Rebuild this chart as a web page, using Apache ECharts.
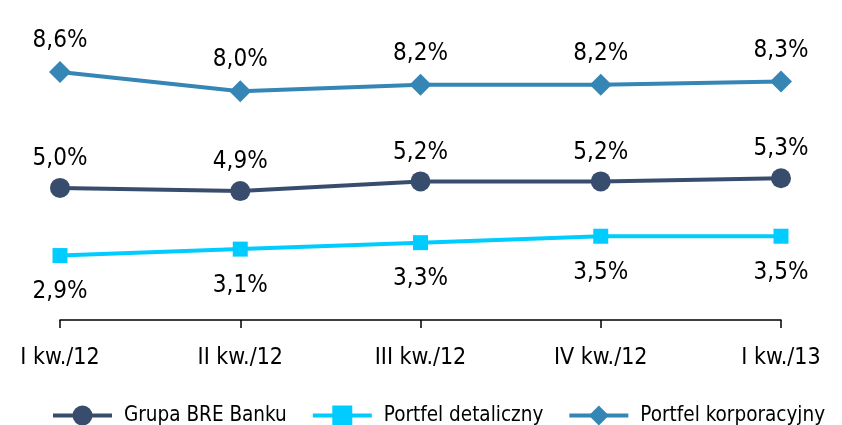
<!DOCTYPE html>
<html>
<head>
<meta charset="utf-8">
<script src="https://cdn.jsdelivr.net/npm/echarts@6/dist/echarts.min.js"></script>
<style>
  html, body { margin: 0; padding: 0; background: #fff; }
  #chart { width: 842px; height: 425px; }
</style>
</head>
<body>
<div id="chart"></div>
<script>
// kwartały
const quarters = ["I kw./12", "II kw./12", "III kw./12", "IV kw./12", "I kw./13"];
// wartości (%)
const grupaBRE = [5.0, 4.9, 5.2, 5.2, 5.3];
const portfelDetaliczny = [2.9, 3.1, 3.3, 3.5, 3.5];
const portfelKorporacyjny = [8.6, 8.0, 8.2, 8.2, 8.3];

const font = "'Liberation Sans Narrow', 'DejaVu Sans Condensed', sans-serif";

const fmt = (p) => p.value.toFixed(1).replace(".", ",") + "%";

const chart = echarts.init(document.getElementById("chart"));

const labelStyle = {
  show: true,
  formatter: fmt,
  fontFamily: font,
  fontSize: 24,
  color: "#000",
};

chart.setOption({
  animation: false,
  textStyle: { fontFamily: font },
  grid: { left: 60, right: 61, top: 30, bottom: 105 },
  legend: {
    left: 46,
    top: 400,
    itemWidth: 59,
    itemHeight: 25,
    itemGap: 24,
    lineStyle: { width: 4 },
    textStyle: { fontFamily: font, fontSize: 20.5, color: "#000", padding: [0, 0, 0, 7] },
    data: ["Grupa BRE Banku", "Portfel detaliczny", "Portfel korporacyjny"],
  },
  xAxis: {
    type: "category",
    data: quarters,
    boundaryGap: false,
    axisLine: { lineStyle: { color: "#000", width: 1.5 } },
    axisTick: { show: true, inside: false, length: 8, lineStyle: { color: "#000", width: 1.5 } },
    axisLabel: { color: "#000", fontSize: 23, fontFamily: font, margin: 27 },
  },
  yAxis: {
    type: "value",
    min: 0.9,
    max: 9.9,
    show: false,
  },
  series: [
    {
      name: "Grupa BRE Banku",
      type: "line",
      data: grupaBRE,
      symbol: "circle",
      symbolSize: 20,
      itemStyle: { color: "#384d6e" },
      lineStyle: { color: "#384d6e", width: 4 },
      label: Object.assign({ position: "top", distance: 7 }, labelStyle),
    },
    {
      name: "Portfel detaliczny",
      type: "line",
      data: portfelDetaliczny,
      symbol: "rect",
      symbolSize: 15,
      itemStyle: { color: "#00ccff" },
      lineStyle: { color: "#00ccff", width: 4 },
      label: Object.assign({ position: "bottom", distance: 17 }, labelStyle),
    },
    {
      name: "Portfel korporacyjny",
      type: "line",
      data: portfelKorporacyjny,
      symbol: "diamond",
      symbolSize: 22,
      itemStyle: { color: "#3585b5" },
      lineStyle: { color: "#3585b5", width: 4 },
      label: Object.assign({ position: "top", distance: 8 }, labelStyle),
    },
  ],
});
</script>
</body>
</html>
